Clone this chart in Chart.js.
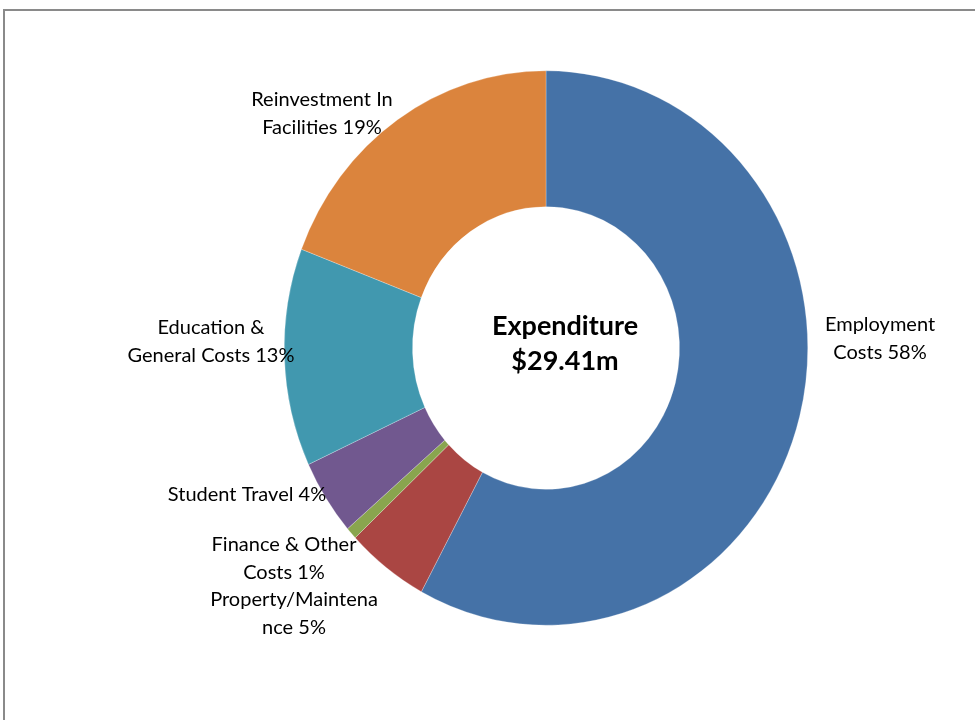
<!DOCTYPE html>
<html lang="en">
<head>
    <meta charset="UTF-8">
    <title>Expenditure</title>
    <script src="https://cdn.jsdelivr.net/npm/chart.js"></script>
    <style>
        html, body { margin: 0; padding: 0; background: #fff; overflow: hidden; }
        .marco { position: absolute; left: 3px; top: 9px; width: 1100px; height: 900px; border: 2px solid #8a8a8a; }
        canvas { position: absolute; left: 0; top: 0; }
    </style>
</head>
<body>
    <div class="marco"></div>
    <canvas id="chart1" width="975" height="720"></canvas>

    <script>
        // datos (porcentaje del gasto total)
        const categorias = ['Employment Costs', 'Property/Maintenance', 'Finance & Other Costs',
            'Student Travel', 'Education & General Costs', 'Reinvestment In Facilities'];
        const valores = [57.9, 5.1, 0.7, 4.4, 12.7, 19.2];
        const etiquetas = ['58%', '5%', '1%', '4%', '13%', '19%'];
        const colores = ['#4572A7', '#AA4643', '#89A54E', '#71588F', '#4198AF', '#DB843D'];
        const titulo = ['Expenditure', '$29.41m'];

        // texto de las etiquetas (con los cortes de linea como en el original)
        const lineas = [
            ['Employment', 'Costs ' + etiquetas[0]],
            ['Property/Maintena', 'nce ' + etiquetas[1]],
            ['Finance & Other', 'Costs ' + etiquetas[2]],
            ['Student Travel ' + etiquetas[3]],
            ['Education &', 'General Costs ' + etiquetas[4]],
            ['Reinvestment In', 'Facilities ' + etiquetas[5]]
        ];
        // posicion del centro del texto de cada etiqueta
        const posEtiquetas = [[880, 325], [294, 600], [284, 545], [247, 495], [211, 328], [322, 100]];

        const estiramiento = 1.059; // el original esta un poco alargado en vertical

        const pluginDona = {
            id: 'dona',
            beforeDatasetsDraw(chart) {
                const arco = chart.getDatasetMeta(0).data[0];
                const ctx = chart.ctx;
                ctx.save();
                ctx.translate(arco.x, arco.y);
                ctx.scale(1, estiramiento);
                ctx.translate(-arco.x, -arco.y);
            },
            afterDatasetsDraw(chart) {
                chart.ctx.restore();
            },
            afterDraw(chart) {
                const ctx = chart.ctx;
                const arco = chart.getDatasetMeta(0).data[0];
                ctx.save();
                ctx.fillStyle = '#000';
                ctx.textAlign = 'center';
                ctx.textBaseline = 'middle';
                ctx.font = '20px Lato';
                lineas.forEach((ls, i) => {
                    ls.forEach((t, j) => {
                        ctx.fillText(t, posEtiquetas[i][0], posEtiquetas[i][1] + j * 27.5);
                    });
                });
                ctx.font = 'bold 27px Lato';
                ctx.fillText(titulo[0], arco.x + 19, arco.y - 22);
                ctx.fillText(titulo[1], arco.x + 19, arco.y + 13);
                ctx.restore();
            }
        };

        const ctx1 = document.getElementById('chart1').getContext('2d');
        new Chart(ctx1, {
            type: 'doughnut',
            data: {
                labels: categorias,
                datasets: [{
                    data: valores,
                    backgroundColor: colores,
                    borderColor: 'rgba(255,255,255,0.5)',
                    borderWidth: 0.5
                }]
            },
            options: {
                responsive: false,
                animation: false,
                cutout: '51%',
                layout: { padding: { left: 284, right: 167, top: 86, bottom: 110 } },
                plugins: {
                    legend: { display: false },
                    tooltip: { enabled: false }
                }
            },
            plugins: [pluginDona]
        });
    </script>
</body>
</html>
